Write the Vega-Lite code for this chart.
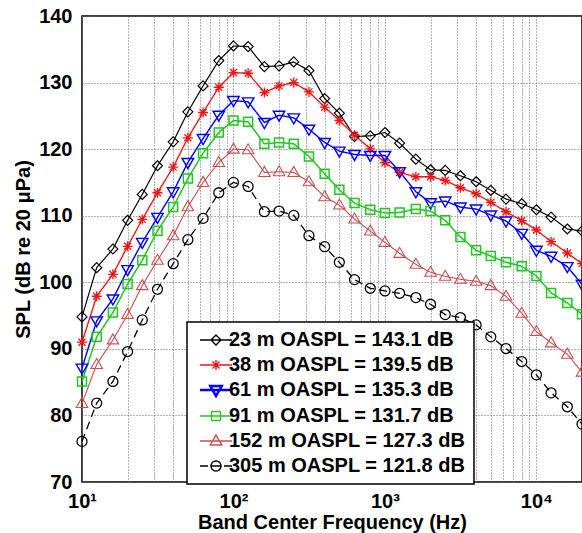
{
  "$schema": "https://vega.github.io/schema/vega-lite/v6.json",
  "width": 500,
  "height": 466,
  "autosize": {"type": "none"},
  "padding": {"left": 82, "top": 16, "right": 0, "bottom": 51},
  "background": "white",
  "config": {
    "font": "Liberation Sans",
    "view": {"stroke": "black", "strokeWidth": 1.5},
    "axis": {
      "grid": true,
      "gridDash": [1, 2],
      "gridColor": "#666666",
      "gridOpacity": 1,
      "gridWidth": 1,
      "domain": false,
      "ticks": false,
      "labelFontSize": 20,
      "labelFontWeight": "bold",
      "labelColor": "black",
      "labelFont": "Liberation Sans",
      "titleFont": "Liberation Sans",
      "titleFontSize": 20,
      "titleFontWeight": "bold",
      "titleColor": "black",
      "labelOverlap": false,
      "labelFlush": false
    }
  },
  "data": {
    "values": [
      {"series": "23 m OASPL = 143.1 dB", "f": 10, "spl": 94.8},
      {"series": "23 m OASPL = 143.1 dB", "f": 12.5, "spl": 102.2},
      {"series": "23 m OASPL = 143.1 dB", "f": 16, "spl": 105.0},
      {"series": "23 m OASPL = 143.1 dB", "f": 20, "spl": 109.3},
      {"series": "23 m OASPL = 143.1 dB", "f": 25, "spl": 113.2},
      {"series": "23 m OASPL = 143.1 dB", "f": 31.5, "spl": 117.5},
      {"series": "23 m OASPL = 143.1 dB", "f": 40, "spl": 121.1},
      {"series": "23 m OASPL = 143.1 dB", "f": 50, "spl": 125.6},
      {"series": "23 m OASPL = 143.1 dB", "f": 63, "spl": 129.5},
      {"series": "23 m OASPL = 143.1 dB", "f": 80, "spl": 133.3},
      {"series": "23 m OASPL = 143.1 dB", "f": 100, "spl": 135.5},
      {"series": "23 m OASPL = 143.1 dB", "f": 125, "spl": 135.4},
      {"series": "23 m OASPL = 143.1 dB", "f": 160, "spl": 132.4},
      {"series": "23 m OASPL = 143.1 dB", "f": 200, "spl": 132.5},
      {"series": "23 m OASPL = 143.1 dB", "f": 250, "spl": 133.1},
      {"series": "23 m OASPL = 143.1 dB", "f": 315, "spl": 131.8},
      {"series": "23 m OASPL = 143.1 dB", "f": 400, "spl": 127.6},
      {"series": "23 m OASPL = 143.1 dB", "f": 500, "spl": 125.4},
      {"series": "23 m OASPL = 143.1 dB", "f": 630, "spl": 121.9},
      {"series": "23 m OASPL = 143.1 dB", "f": 800, "spl": 122.0},
      {"series": "23 m OASPL = 143.1 dB", "f": 1000, "spl": 122.5},
      {"series": "23 m OASPL = 143.1 dB", "f": 1250, "spl": 120.9},
      {"series": "23 m OASPL = 143.1 dB", "f": 1600, "spl": 118.5},
      {"series": "23 m OASPL = 143.1 dB", "f": 2000, "spl": 116.9},
      {"series": "23 m OASPL = 143.1 dB", "f": 2500, "spl": 116.8},
      {"series": "23 m OASPL = 143.1 dB", "f": 3150, "spl": 116.0},
      {"series": "23 m OASPL = 143.1 dB", "f": 4000, "spl": 115.1},
      {"series": "23 m OASPL = 143.1 dB", "f": 5000, "spl": 113.8},
      {"series": "23 m OASPL = 143.1 dB", "f": 6300, "spl": 112.5},
      {"series": "23 m OASPL = 143.1 dB", "f": 8000, "spl": 111.8},
      {"series": "23 m OASPL = 143.1 dB", "f": 10000, "spl": 110.9},
      {"series": "23 m OASPL = 143.1 dB", "f": 12500, "spl": 109.8},
      {"series": "23 m OASPL = 143.1 dB", "f": 16000, "spl": 108.0},
      {"series": "23 m OASPL = 143.1 dB", "f": 20000, "spl": 107.7},
      {"series": "38 m OASPL = 139.5 dB", "f": 10, "spl": 91.0},
      {"series": "38 m OASPL = 139.5 dB", "f": 12.5, "spl": 97.9},
      {"series": "38 m OASPL = 139.5 dB", "f": 16, "spl": 101.2},
      {"series": "38 m OASPL = 139.5 dB", "f": 20, "spl": 105.4},
      {"series": "38 m OASPL = 139.5 dB", "f": 25, "spl": 109.45},
      {"series": "38 m OASPL = 139.5 dB", "f": 31.5, "spl": 113.45},
      {"series": "38 m OASPL = 139.5 dB", "f": 40, "spl": 117.3},
      {"series": "38 m OASPL = 139.5 dB", "f": 50, "spl": 121.7},
      {"series": "38 m OASPL = 139.5 dB", "f": 63, "spl": 125.5},
      {"series": "38 m OASPL = 139.5 dB", "f": 80, "spl": 129.3},
      {"series": "38 m OASPL = 139.5 dB", "f": 100, "spl": 131.5},
      {"series": "38 m OASPL = 139.5 dB", "f": 125, "spl": 131.4},
      {"series": "38 m OASPL = 139.5 dB", "f": 160, "spl": 128.5},
      {"series": "38 m OASPL = 139.5 dB", "f": 200, "spl": 129.5},
      {"series": "38 m OASPL = 139.5 dB", "f": 250, "spl": 130.0},
      {"series": "38 m OASPL = 139.5 dB", "f": 315, "spl": 128.6},
      {"series": "38 m OASPL = 139.5 dB", "f": 400, "spl": 126.3},
      {"series": "38 m OASPL = 139.5 dB", "f": 500, "spl": 124.3},
      {"series": "38 m OASPL = 139.5 dB", "f": 630, "spl": 122.1},
      {"series": "38 m OASPL = 139.5 dB", "f": 800, "spl": 120.05},
      {"series": "38 m OASPL = 139.5 dB", "f": 1000, "spl": 117.95},
      {"series": "38 m OASPL = 139.5 dB", "f": 1250, "spl": 116.5},
      {"series": "38 m OASPL = 139.5 dB", "f": 1600, "spl": 115.85},
      {"series": "38 m OASPL = 139.5 dB", "f": 2000, "spl": 115.85},
      {"series": "38 m OASPL = 139.5 dB", "f": 2500, "spl": 115.3},
      {"series": "38 m OASPL = 139.5 dB", "f": 3150, "spl": 114.2},
      {"series": "38 m OASPL = 139.5 dB", "f": 4000, "spl": 113.3},
      {"series": "38 m OASPL = 139.5 dB", "f": 5000, "spl": 112.0},
      {"series": "38 m OASPL = 139.5 dB", "f": 6300, "spl": 110.6},
      {"series": "38 m OASPL = 139.5 dB", "f": 8000, "spl": 109.25},
      {"series": "38 m OASPL = 139.5 dB", "f": 10000, "spl": 107.85},
      {"series": "38 m OASPL = 139.5 dB", "f": 12500, "spl": 106.1},
      {"series": "38 m OASPL = 139.5 dB", "f": 16000, "spl": 104.4},
      {"series": "38 m OASPL = 139.5 dB", "f": 20000, "spl": 102.8},
      {"series": "61 m OASPL = 135.3 dB", "f": 10, "spl": 87.1},
      {"series": "61 m OASPL = 135.3 dB", "f": 12.5, "spl": 94.2},
      {"series": "61 m OASPL = 135.3 dB", "f": 16, "spl": 97.5},
      {"series": "61 m OASPL = 135.3 dB", "f": 20, "spl": 101.9},
      {"series": "61 m OASPL = 135.3 dB", "f": 25, "spl": 106.0},
      {"series": "61 m OASPL = 135.3 dB", "f": 31.5, "spl": 109.75},
      {"series": "61 m OASPL = 135.3 dB", "f": 40, "spl": 113.6},
      {"series": "61 m OASPL = 135.3 dB", "f": 50, "spl": 118.0},
      {"series": "61 m OASPL = 135.3 dB", "f": 63, "spl": 121.6},
      {"series": "61 m OASPL = 135.3 dB", "f": 80, "spl": 125.1},
      {"series": "61 m OASPL = 135.3 dB", "f": 100, "spl": 127.3},
      {"series": "61 m OASPL = 135.3 dB", "f": 125, "spl": 127.1},
      {"series": "61 m OASPL = 135.3 dB", "f": 160, "spl": 124.0},
      {"series": "61 m OASPL = 135.3 dB", "f": 200, "spl": 125.1},
      {"series": "61 m OASPL = 135.3 dB", "f": 250, "spl": 124.7},
      {"series": "61 m OASPL = 135.3 dB", "f": 315, "spl": 123.0},
      {"series": "61 m OASPL = 135.3 dB", "f": 400, "spl": 121.0},
      {"series": "61 m OASPL = 135.3 dB", "f": 500, "spl": 119.7},
      {"series": "61 m OASPL = 135.3 dB", "f": 630, "spl": 119.2},
      {"series": "61 m OASPL = 135.3 dB", "f": 800, "spl": 119.05},
      {"series": "61 m OASPL = 135.3 dB", "f": 1000, "spl": 119.05},
      {"series": "61 m OASPL = 135.3 dB", "f": 1250, "spl": 116.6},
      {"series": "61 m OASPL = 135.3 dB", "f": 1600, "spl": 113.6},
      {"series": "61 m OASPL = 135.3 dB", "f": 2000, "spl": 111.95},
      {"series": "61 m OASPL = 135.3 dB", "f": 2500, "spl": 112.2},
      {"series": "61 m OASPL = 135.3 dB", "f": 3150, "spl": 111.3},
      {"series": "61 m OASPL = 135.3 dB", "f": 4000, "spl": 111.0},
      {"series": "61 m OASPL = 135.3 dB", "f": 5000, "spl": 110.1},
      {"series": "61 m OASPL = 135.3 dB", "f": 6300, "spl": 109.2},
      {"series": "61 m OASPL = 135.3 dB", "f": 8000, "spl": 107.35},
      {"series": "61 m OASPL = 135.3 dB", "f": 10000, "spl": 104.8},
      {"series": "61 m OASPL = 135.3 dB", "f": 12500, "spl": 103.9},
      {"series": "61 m OASPL = 135.3 dB", "f": 16000, "spl": 102.35},
      {"series": "61 m OASPL = 135.3 dB", "f": 20000, "spl": 99.7},
      {"series": "91 m OASPL = 131.7 dB", "f": 10, "spl": 85.1},
      {"series": "91 m OASPL = 131.7 dB", "f": 12.5, "spl": 91.8},
      {"series": "91 m OASPL = 131.7 dB", "f": 16, "spl": 95.45},
      {"series": "91 m OASPL = 131.7 dB", "f": 20, "spl": 99.75},
      {"series": "91 m OASPL = 131.7 dB", "f": 25, "spl": 103.3},
      {"series": "91 m OASPL = 131.7 dB", "f": 31.5, "spl": 107.75},
      {"series": "91 m OASPL = 131.7 dB", "f": 40, "spl": 111.3},
      {"series": "91 m OASPL = 131.7 dB", "f": 50, "spl": 115.6},
      {"series": "91 m OASPL = 131.7 dB", "f": 63, "spl": 119.4},
      {"series": "91 m OASPL = 131.7 dB", "f": 80, "spl": 122.5},
      {"series": "91 m OASPL = 131.7 dB", "f": 100, "spl": 124.3},
      {"series": "91 m OASPL = 131.7 dB", "f": 125, "spl": 124.1},
      {"series": "91 m OASPL = 131.7 dB", "f": 160, "spl": 120.8},
      {"series": "91 m OASPL = 131.7 dB", "f": 200, "spl": 121.0},
      {"series": "91 m OASPL = 131.7 dB", "f": 250, "spl": 120.8},
      {"series": "91 m OASPL = 131.7 dB", "f": 315, "spl": 118.9},
      {"series": "91 m OASPL = 131.7 dB", "f": 400, "spl": 116.3},
      {"series": "91 m OASPL = 131.7 dB", "f": 500, "spl": 113.9},
      {"series": "91 m OASPL = 131.7 dB", "f": 630, "spl": 111.9},
      {"series": "91 m OASPL = 131.7 dB", "f": 800, "spl": 110.9},
      {"series": "91 m OASPL = 131.7 dB", "f": 1000, "spl": 110.4},
      {"series": "91 m OASPL = 131.7 dB", "f": 1250, "spl": 110.5},
      {"series": "91 m OASPL = 131.7 dB", "f": 1600, "spl": 111.0},
      {"series": "91 m OASPL = 131.7 dB", "f": 2000, "spl": 110.7},
      {"series": "91 m OASPL = 131.7 dB", "f": 2500, "spl": 109.3},
      {"series": "91 m OASPL = 131.7 dB", "f": 3150, "spl": 106.8},
      {"series": "91 m OASPL = 131.7 dB", "f": 4000, "spl": 104.8},
      {"series": "91 m OASPL = 131.7 dB", "f": 5000, "spl": 103.95},
      {"series": "91 m OASPL = 131.7 dB", "f": 6300, "spl": 103.0},
      {"series": "91 m OASPL = 131.7 dB", "f": 8000, "spl": 102.4},
      {"series": "91 m OASPL = 131.7 dB", "f": 10000, "spl": 100.95},
      {"series": "91 m OASPL = 131.7 dB", "f": 12500, "spl": 98.4},
      {"series": "91 m OASPL = 131.7 dB", "f": 16000, "spl": 96.9},
      {"series": "91 m OASPL = 131.7 dB", "f": 20000, "spl": 95.2},
      {"series": "152 m OASPL = 127.3 dB", "f": 10, "spl": 81.8},
      {"series": "152 m OASPL = 127.3 dB", "f": 12.5, "spl": 87.65},
      {"series": "152 m OASPL = 127.3 dB", "f": 16, "spl": 91.35},
      {"series": "152 m OASPL = 127.3 dB", "f": 20, "spl": 95.15},
      {"series": "152 m OASPL = 127.3 dB", "f": 25, "spl": 99.5},
      {"series": "152 m OASPL = 127.3 dB", "f": 31.5, "spl": 103.3},
      {"series": "152 m OASPL = 127.3 dB", "f": 40, "spl": 107.0},
      {"series": "152 m OASPL = 127.3 dB", "f": 50, "spl": 111.35},
      {"series": "152 m OASPL = 127.3 dB", "f": 63, "spl": 115.0},
      {"series": "152 m OASPL = 127.3 dB", "f": 80, "spl": 118.0},
      {"series": "152 m OASPL = 127.3 dB", "f": 100, "spl": 120.0},
      {"series": "152 m OASPL = 127.3 dB", "f": 125, "spl": 119.9},
      {"series": "152 m OASPL = 127.3 dB", "f": 160, "spl": 116.5},
      {"series": "152 m OASPL = 127.3 dB", "f": 200, "spl": 116.6},
      {"series": "152 m OASPL = 127.3 dB", "f": 250, "spl": 116.5},
      {"series": "152 m OASPL = 127.3 dB", "f": 315, "spl": 115.1},
      {"series": "152 m OASPL = 127.3 dB", "f": 400, "spl": 112.85},
      {"series": "152 m OASPL = 127.3 dB", "f": 500, "spl": 111.6},
      {"series": "152 m OASPL = 127.3 dB", "f": 630, "spl": 109.5},
      {"series": "152 m OASPL = 127.3 dB", "f": 800, "spl": 107.7},
      {"series": "152 m OASPL = 127.3 dB", "f": 1000, "spl": 106.0},
      {"series": "152 m OASPL = 127.3 dB", "f": 1250, "spl": 104.35},
      {"series": "152 m OASPL = 127.3 dB", "f": 1600, "spl": 102.7},
      {"series": "152 m OASPL = 127.3 dB", "f": 2000, "spl": 101.5},
      {"series": "152 m OASPL = 127.3 dB", "f": 2500, "spl": 100.9},
      {"series": "152 m OASPL = 127.3 dB", "f": 3150, "spl": 100.45},
      {"series": "152 m OASPL = 127.3 dB", "f": 4000, "spl": 100.15},
      {"series": "152 m OASPL = 127.3 dB", "f": 5000, "spl": 99.5},
      {"series": "152 m OASPL = 127.3 dB", "f": 6300, "spl": 97.9},
      {"series": "152 m OASPL = 127.3 dB", "f": 8000, "spl": 95.35},
      {"series": "152 m OASPL = 127.3 dB", "f": 10000, "spl": 92.6},
      {"series": "152 m OASPL = 127.3 dB", "f": 12500, "spl": 90.9},
      {"series": "152 m OASPL = 127.3 dB", "f": 16000, "spl": 89.2},
      {"series": "152 m OASPL = 127.3 dB", "f": 20000, "spl": 86.5},
      {"series": "305 m OASPL = 121.8 dB", "f": 10, "spl": 76.1},
      {"series": "305 m OASPL = 121.8 dB", "f": 12.5, "spl": 81.85},
      {"series": "305 m OASPL = 121.8 dB", "f": 16, "spl": 85.1},
      {"series": "305 m OASPL = 121.8 dB", "f": 20, "spl": 89.6},
      {"series": "305 m OASPL = 121.8 dB", "f": 25, "spl": 94.35},
      {"series": "305 m OASPL = 121.8 dB", "f": 31.5, "spl": 98.95},
      {"series": "305 m OASPL = 121.8 dB", "f": 40, "spl": 102.8},
      {"series": "305 m OASPL = 121.8 dB", "f": 50, "spl": 106.4},
      {"series": "305 m OASPL = 121.8 dB", "f": 63, "spl": 109.6},
      {"series": "305 m OASPL = 121.8 dB", "f": 80, "spl": 113.45},
      {"series": "305 m OASPL = 121.8 dB", "f": 100, "spl": 115.0},
      {"series": "305 m OASPL = 121.8 dB", "f": 125, "spl": 114.4},
      {"series": "305 m OASPL = 121.8 dB", "f": 160, "spl": 110.6},
      {"series": "305 m OASPL = 121.8 dB", "f": 200, "spl": 110.7},
      {"series": "305 m OASPL = 121.8 dB", "f": 250, "spl": 110.05},
      {"series": "305 m OASPL = 121.8 dB", "f": 315, "spl": 107.0},
      {"series": "305 m OASPL = 121.8 dB", "f": 400, "spl": 105.35},
      {"series": "305 m OASPL = 121.8 dB", "f": 500, "spl": 103.0},
      {"series": "305 m OASPL = 121.8 dB", "f": 630, "spl": 100.4},
      {"series": "305 m OASPL = 121.8 dB", "f": 800, "spl": 99.1},
      {"series": "305 m OASPL = 121.8 dB", "f": 1000, "spl": 98.7},
      {"series": "305 m OASPL = 121.8 dB", "f": 1250, "spl": 98.35},
      {"series": "305 m OASPL = 121.8 dB", "f": 1600, "spl": 97.7},
      {"series": "305 m OASPL = 121.8 dB", "f": 2000, "spl": 96.7},
      {"series": "305 m OASPL = 121.8 dB", "f": 2500, "spl": 95.15},
      {"series": "305 m OASPL = 121.8 dB", "f": 3150, "spl": 94.7},
      {"series": "305 m OASPL = 121.8 dB", "f": 4000, "spl": 93.6},
      {"series": "305 m OASPL = 121.8 dB", "f": 5000, "spl": 91.8},
      {"series": "305 m OASPL = 121.8 dB", "f": 6300, "spl": 90.05},
      {"series": "305 m OASPL = 121.8 dB", "f": 8000, "spl": 88.1},
      {"series": "305 m OASPL = 121.8 dB", "f": 10000, "spl": 86.1},
      {"series": "305 m OASPL = 121.8 dB", "f": 12500, "spl": 83.4},
      {"series": "305 m OASPL = 121.8 dB", "f": 16000, "spl": 81.3},
      {"series": "305 m OASPL = 121.8 dB", "f": 20000, "spl": 78.7}
    ]
  },
  "encoding": {
    "x": {
      "field": "f",
      "type": "quantitative",
      "scale": {"type": "log", "domain": [10, 20000], "nice": false},
      "axis": {
        "title": "Band Center Frequency (Hz)",
        "values": [10, 20, 30, 40, 50, 60, 70, 80, 90, 100, 200, 300, 400, 500, 600, 700, 800, 900, 1000, 2000, 3000, 4000, 5000, 6000, 7000, 8000, 9000, 10000, 20000],
        "labelExpr": "datum.value == 10 ? '10¹' : datum.value == 100 ? '10²' : datum.value == 1000 ? '10³' : datum.value == 10000 ? '10⁴' : ''",
        "labelPadding": 9,
        "titlePadding": 1
      }
    },
    "y": {
      "field": "spl",
      "type": "quantitative",
      "scale": {"domain": [70, 140], "nice": false, "zero": false},
      "axis": {
        "title": "SPL (dB re 20 μPa)",
        "values": [70, 80, 90, 100, 110, 120, 130, 140],
        "labelPadding": 10,
        "titlePadding": 5
      }
    },
    "color": {
      "field": "series",
      "type": "nominal",
      "scale": {
        "domain": ["23 m OASPL = 143.1 dB", "38 m OASPL = 139.5 dB", "61 m OASPL = 135.3 dB", "91 m OASPL = 131.7 dB", "152 m OASPL = 127.3 dB", "305 m OASPL = 121.8 dB"],
        "range": ["#000000", "#f01414", "#0000ff", "#1ec81e", "#cc4d4d", "#000000"]
      },
      "legend": {
        "title": null,
        "orient": "none",
        "legendX": 105,
        "legendY": 306,
        "padding": 8,
        "strokeColor": "black",
        "fillColor": "white",
        "labelFontSize": 20,
        "labelFontWeight": "bold",
        "labelFont": "Liberation Sans",
        "labelColor": "black",
        "labelLimit": 400,
        "labelOffset": 14,
        "labelExpr": "datum.label + '\u00a0\u2009'",
        "rowPadding": 5,
        "symbolSize": 100,
        "encode": {
          "legend": {"update": {"strokeWidth": {"value": 1.5}}},
          "symbols": {
            "update": {
              "shape": {"signal": "datum.value == '23 m OASPL = 143.1 dB' ? 'M-1,0H5.4M2.2,-1L3.2,0L2.2,1L1.2,0Z' : datum.value == '38 m OASPL = 139.5 dB' ? 'M-1,0H5.4M2.2,-1V1M1.2,0H3.2M1.5,-0.7L2.9,0.7M1.5,0.7L2.9,-0.7' : datum.value == '61 m OASPL = 135.3 dB' ? 'M-1,0H5.4M1.05,-0.8H3.35L2.2,1.2Z' : datum.value == '91 m OASPL = 131.7 dB' ? 'M-1,0H5.4M1.3,-0.9H3.1V0.9H1.3Z' : datum.value == '152 m OASPL = 127.3 dB' ? 'M-1,0H5.4M1.05,0.8H3.35L2.2,-1.2Z' : 'M-1,0H0.6M3.8,0H5.4M1.2,0A1,1 0 1,1 3.2,0A1,1 0 1,1 1.2,0ZM1.2,0H3.2'"},
              "fill": {"value": "transparent"},
              "stroke": {"scale": "color", "field": "value"},
              "strokeDash": {"value": [1, 0]},
              "strokeWidth": {"signal": "datum.value == '61 m OASPL = 135.3 dB' ? 2.5 : 1.4"},
              "size": {"value": 100},
              "opacity": {"value": 1}
            }
          }
        }
      }
    }
  },
  "layer": [
    {
      "mark": {"type": "line", "clip": true},
      "encoding": {
        "strokeDash": {
          "field": "series",
          "type": "nominal",
          "scale": {
            "range": [[1, 0], [1, 0], [8, 5], [1, 0], [1, 0], [1, 0]]
          },
          "legend": null
        },
        "strokeWidth": {
          "field": "series",
          "type": "nominal",
          "scale": {
            "range": [1.1, 1.5, 1.5, 1.5, 2.6, 1.5]
          },
          "legend": null
        }
      }
    },
    {
      "mark": {"type": "point", "filled": false, "size": 100, "opacity": 1, "fill": "transparent"},
      "encoding": {
        "shape": {
          "field": "series",
          "type": "nominal",
          "scale": {
            "range": ["M-1.15,0.8H1.15L0,-1.2Z", "M0,-1L1,0L0,1L-1,0Z", "M-1,0A1,1 0 1,1 1,0A1,1 0 1,1 -1,0Z", "M0,-1V1M-1,0H1M-0.7,-0.7L0.7,0.7M-0.7,0.7L0.7,-0.7", "M-1.15,-0.8H1.15L0,1.2Z", "M-0.9,-0.9H0.9V0.9H-0.9Z"]
          },
          "legend": null
        },
        "strokeWidth": {
          "field": "series",
          "type": "nominal",
          "legend": null
        }
      }
    }
  ]
}
